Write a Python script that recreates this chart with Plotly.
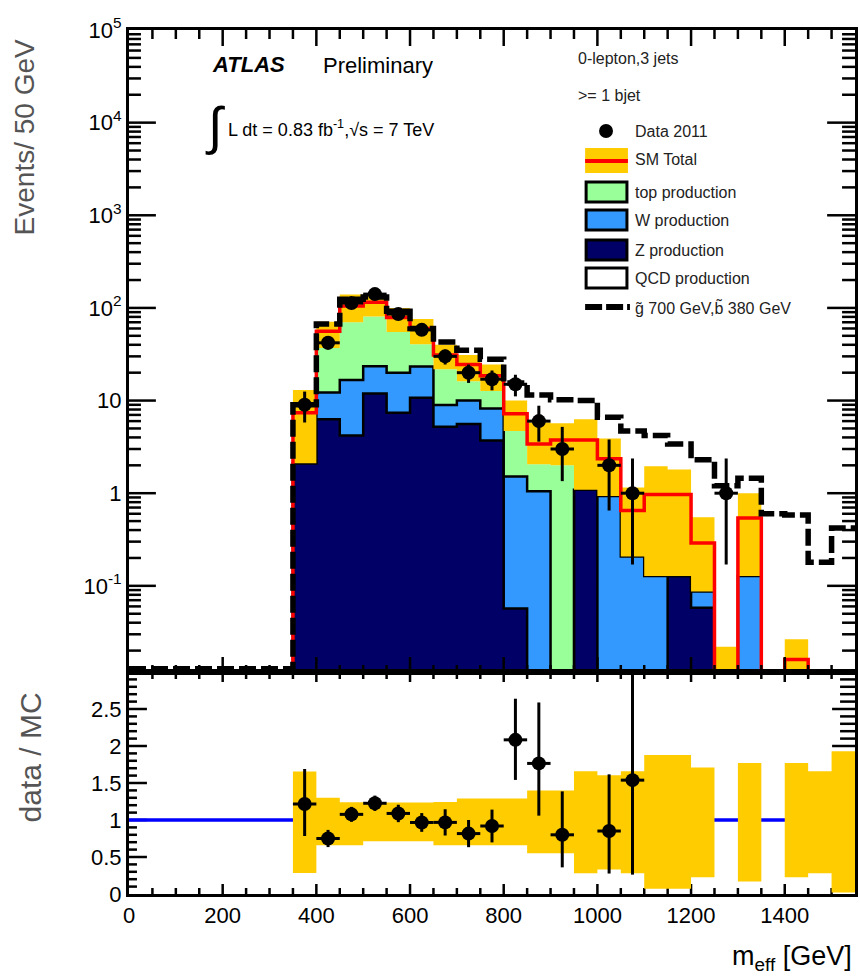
import plotly.graph_objects as go

# ---------------- binning: m_eff, 50 GeV bins ----------------
bin_edges = [350, 400, 450, 500, 550, 600, 650, 700, 750, 800, 850, 900, 950,
             1000, 1050, 1100, 1150, 1200, 1250, 1300, 1350, 1400, 1450, 1500, 1550]

# ---------------- data 2011 (None = empty bin) ----------------
data_counts = [9, 42, 113, 141, 86, 58, 30, 20, 17, 15, 6, 3, None,
               2, 1, None, None, None, 1, None, None, None, None, None]
data_err_up = [3.5, 6.5, 10.6, 11.9, 9.3, 7.6, 5.5, 4.5, 4.1, 4.0, 2.8, 2.2, None,
               1.8, 1.37, None, None, None, 1.37, None, None, None, None, None]
data_err_dn = [3.2, 6.5, 10.6, 11.9, 9.3, 7.6, 5.5, 4.5, 4.1, 3.9, 2.4, 1.65, None,
               1.35, 0.83, None, None, None, 0.83, None, None, None, None, None]

# ---------------- SM backgrounds (events / bin) ----------------
z_prod = [2.1, 6.3, 4.2, 11.9, 7.4, 10.7, 5.2, 5.6, 3.7, 0.057, 0, 0, 1.09,
          0, 0, 0, 0.128, 0.058, 0, 0, 0, 0, 0, 0]
w_prod = [0, 5.9, 12.5, 11.5, 12.6, 12.6, 3.75, 4.4, 4.5, 1.46, 1.05, 0, 0,
          0.93, 0.207, 0.128, 0, 0.029, 0, 0.128, 0, 0, 0, 0]
top_prod = [0, 24.8, 53.3, 57.6, 35, 17.3, 12.85, 6.2, 4.5, 3.2, 1.0, 2.0, 0,
            0, 0, 0, 0, 0, 0, 0, 0, 0, 0, 0]
sm_total = [7.4, 56, 105, 115, 79, 60, 31, 24.5, 18.5, 7.2, 3.4, 3.75, 3.75,
            2.35, 0.65, 0.97, 0.97, 0.29, 0, 0.54, 0, 0.016, 0.005, 0.005]

# SM uncertainty band (events)
sm_band_hi = [13, 71, 140, 140, 100, 76, 40, 31, 24.5, 10, 5.8, 5.7, 6.3,
              3.9, 1.15, 1.95, 1.8, 0.55, 0.022, 1.0, None, 0.0265, None, None]
sm_band_lo = [2.1, 37, 70, 81, 55, 40.6, 21.8, 16.2, 12.7, 4.7, 2.05, 2.0, 1.09,
              0.93, 0.207, 0.128, 0.128, 0.087, None, 0.128, None, None, None, None]

# SM uncertainty band relative to the SM total (ratio panel)
ratio_band_lo = [0.285, 0.66, 0.66, 0.714, 0.714, 0.714, 0.66, 0.66, 0.66, 0.66, 0.55, 0.55, 0.28,
                 0.33, 0.28, 0.072, 0.072, 0.225, None, 0.17, None, 0.225, 0.28, 0.02]
ratio_band_hi = [1.655, 1.30, 1.24, 1.235, 1.235, 1.235, 1.243, 1.29, 1.29, 1.29, 1.40, 1.40, 1.66,
                 1.605, 1.66, 1.88, 1.88, 1.71, None, 1.77, None, 1.77, 1.66, 1.93]

# SM + signal (gluino 700 GeV, sbottom 380 GeV)
signal_total = [9, 67, 124, 131, 92, 60, 43, 35, 28, 15.5, 11.5, 10.2, 10.0,
                6.6, 4.7, 4.2, 3.4, 2.3, 1.2, 1.45, 0.6, 0.58, 0.18, 0.42]

# axis ticks
x_major = [0, 200, 400, 600, 800, 1000, 1200, 1400]
x_minor = [v for v in range(50, 1550, 50) if v % 200]
y_major = [0.1, 1, 10, 100, 1e3, 1e4, 1e5]
y_major_text = ["10<sup>-1</sup>", "1", "10", "10<sup>2</sup>", "10<sup>3</sup>",
                "10<sup>4</sup>", "10<sup>5</sup>"]
y_minor = [m * 10 ** e for e in range(-2, 5) for m in range(2, 10)]
r_major = [0, 0.5, 1, 1.5, 2, 2.5]
r_major_text = ["0", "0.5", "1", "1.5", "2", "2.5"]
r_minor = [i / 10 for i in range(1, 30) if i % 5]

# ---------------- styling constants ----------------
FONT = "Liberation Sans, Arial, Helvetica, sans-serif"
NAVY, WBLUE, TGREEN = "#000066", "#3399ff", "#99ff99"
YELLOW, RED, BLUE = "#ffcc00", "#ff0000", "#0000ff"
FLOOR = 1e-4            # below the visible log range
SIG_FLOOR = 0.0127      # empty signal bins drawn along the bottom edge
Y_LOG_RANGE = [-1.93, 5.0]
R_RANGE = [0, 3]
X_RANGE = [0, 1550]

W, H = 860, 978
ML, MR, MT, MB = 129, 2, 30, 84
PLOT_W = W - ML - MR
PLOT_H = H - MT - MB
SPLIT_PX = 672           # boundary between the two panels
RATIO_FRAC = (H - MB - SPLIT_PX) / PLOT_H
TOP_H_PX = SPLIT_PX - MT
RATIO_H_PX = H - MB - SPLIT_PX

# pixel -> axis unit conversions used for tick-mark lengths
X_PER_PX = (X_RANGE[1] - X_RANGE[0]) / PLOT_W
DEC_PER_PX = (Y_LOG_RANGE[1] - Y_LOG_RANGE[0]) / TOP_H_PX
R_PER_PX = (R_RANGE[1] - R_RANGE[0]) / RATIO_H_PX


def px(x):
    return (x - ML) / PLOT_W


def py(y):
    return (H - MB - y) / PLOT_H


def clean(vals, floor=FLOOR):
    return [floor if (v is None or v <= 0) else v for v in vals]


def step_xy(vals, floor=FLOOR, lead=None):
    v = clean(vals, floor)
    x0 = bin_edges[0] if lead is None else lead
    xs = [x0] + bin_edges
    ys = [floor] + v + [v[-1]]
    return xs, ys


def cumsum(*series):
    return [sum(parts) for parts in zip(*series)]


fig = go.Figure()


def tick_marks(xaxis, yaxis, y_ticks, x_ticks, y_to_axis, y_from_axis, y_span):
    """y_ticks: (value, left_len_px, right_len_px); x_ticks: (value, bottom_len_px, top_len_px)."""
    xs, ys = [], []
    for v, l_left, l_right in y_ticks:
        xs += [X_RANGE[0], X_RANGE[0] + l_left * X_PER_PX, None,
               X_RANGE[1] - l_right * X_PER_PX, X_RANGE[1], None]
        ys += [v, v, None, v, v, None]
    lo, hi = y_span
    for v, l_bot, l_top in x_ticks:
        xs += [v, v, None, v, v, None]
        ys += [y_from_axis(lo), y_from_axis(lo + l_bot * y_to_axis), None,
               y_from_axis(hi - l_top * y_to_axis), y_from_axis(hi), None]
    fig.add_trace(go.Scatter(x=xs, y=ys, mode="lines", line=dict(color="black", width=2.5),
                             hoverinfo="skip", showlegend=False, xaxis=xaxis, yaxis=yaxis))


# ---------------- top panel: stacked backgrounds ----------------
xs, base = step_xy([0] * len(z_prod))
fig.add_trace(go.Scatter(x=xs, y=base, mode="lines", line=dict(width=0, shape="hv"),
                         hoverinfo="skip", showlegend=False, xaxis="x", yaxis="y"))

stack_z = z_prod
stack_zw = cumsum(z_prod, w_prod)
stack_zwt = cumsum(z_prod, w_prod, top_prod)

for vals, colour, lw in [(stack_z, NAVY, 2.5), (stack_zw, WBLUE, 2.5), (stack_zwt, TGREEN, 0)]:
    xs, ys = step_xy(vals)
    fig.add_trace(go.Scatter(x=xs, y=ys, mode="lines", fill="tonexty", fillcolor=colour,
                             line=dict(color="black", width=lw, shape="hv"),
                             hoverinfo="skip", showlegend=False, xaxis="x", yaxis="y"))

# uncertainty band over the stack
band_hi = list(sm_band_hi)
band_lo = [(l if l is not None else FLOOR) if h is not None else None
           for h, l in zip(sm_band_hi, sm_band_lo)]
xs, ys_lo = step_xy(band_lo)
xs, ys_hi = step_xy(band_hi)
fig.add_trace(go.Scatter(x=xs, y=ys_lo, mode="lines", line=dict(width=0, shape="hv"),
                         hoverinfo="skip", showlegend=False, xaxis="x", yaxis="y"))
fig.add_trace(go.Scatter(x=xs, y=ys_hi, mode="lines", fill="tonexty", fillcolor=YELLOW,
                         line=dict(width=0, shape="hv"),
                         hoverinfo="skip", showlegend=False, xaxis="x", yaxis="y"))

# SM total
xs, ys = step_xy(sm_total)
fig.add_trace(go.Scatter(x=xs, y=ys, mode="lines", line=dict(color=RED, width=3.5, shape="hv"),
                         hoverinfo="skip", showlegend=False, xaxis="x", yaxis="y"))

# SM + signal
xs, ys = step_xy(signal_total, floor=SIG_FLOOR, lead=X_RANGE[0])
fig.add_trace(go.Scatter(x=xs, y=ys, mode="lines",
                         line=dict(color="black", width=5.5, shape="hv", dash="17px,5px"),
                         hoverinfo="skip", showlegend=False, xaxis="x", yaxis="y"))

# tick marks of the top panel (drawn over the histograms)
y_lo_val, y_hi_val = 10 ** Y_LOG_RANGE[0], 10 ** Y_LOG_RANGE[1]
top_y_ticks = ([(v, 27, 28) for v in y_major if y_lo_val < v < y_hi_val] +
               [(v, 12, 13) for v in y_minor if y_lo_val < v < y_hi_val])
top_x_ticks = [(v, 15, 16) for v in x_major[1:]] + [(v, 7, 9) for v in x_minor]
tick_marks("x", "y", top_y_ticks, top_x_ticks, DEC_PER_PX, lambda d: 10 ** d, Y_LOG_RANGE)

# data points
centres = [(a + b) / 2 for a, b in zip(bin_edges[:-1], bin_edges[1:])]
halfw = [(b - a) / 2 for a, b in zip(bin_edges[:-1], bin_edges[1:])]
sel = [i for i, n in enumerate(data_counts) if n is not None]
fig.add_trace(go.Scatter(
    x=[centres[i] for i in sel], y=[data_counts[i] for i in sel], mode="markers",
    marker=dict(color="black", size=14),
    error_x=dict(type="data", array=[halfw[i] for i in sel], thickness=3, width=0, color="black"),
    error_y=dict(type="data", symmetric=False, array=[data_err_up[i] for i in sel],
                 arrayminus=[data_err_dn[i] for i in sel], thickness=3, width=0, color="black"),
    hoverinfo="skip", showlegend=False, xaxis="x", yaxis="y"))

# ---------------- ratio panel ----------------
# tick marks first, so the uncertainty band covers them
ratio_y_ticks = ([(v, 18, 23) for v in r_major[1:]] + [(v, 8, 15) for v in r_minor])
ratio_x_ticks = [(v, 10, 10) for v in x_major[1:]] + [(v, 6, 7) for v in x_minor]
tick_marks("x2", "y2", ratio_y_ticks, ratio_x_ticks, R_PER_PX, lambda d: d, R_RANGE)

fig.add_trace(go.Scatter(x=X_RANGE, y=[1, 1], mode="lines", line=dict(color=BLUE, width=3.5),
                         hoverinfo="skip", showlegend=False, xaxis="x2", yaxis="y2"))
r_lo = [l if l is not None else 1.0 for l in ratio_band_lo]
r_hi = [h if h is not None else 1.0 for h in ratio_band_hi]
fig.add_trace(go.Scatter(x=bin_edges, y=r_lo + [r_lo[-1]], mode="lines",
                         line=dict(width=0, shape="hv"),
                         hoverinfo="skip", showlegend=False, xaxis="x2", yaxis="y2"))
fig.add_trace(go.Scatter(x=bin_edges, y=r_hi + [r_hi[-1]], mode="lines", fill="tonexty",
                         fillcolor=YELLOW, line=dict(width=0, shape="hv"),
                         hoverinfo="skip", showlegend=False, xaxis="x2", yaxis="y2"))

rsel = [i for i in sel if sm_total[i] > 0]
fig.add_trace(go.Scatter(
    x=[centres[i] for i in rsel], y=[data_counts[i] / sm_total[i] for i in rsel], mode="markers",
    marker=dict(color="black", size=14),
    error_x=dict(type="data", array=[halfw[i] for i in rsel], thickness=3, width=0, color="black"),
    error_y=dict(type="data", symmetric=False,
                 array=[data_err_up[i] / sm_total[i] for i in rsel],
                 arrayminus=[data_err_dn[i] / sm_total[i] for i in rsel],
                 thickness=3, width=0, color="black"),
    hoverinfo="skip", showlegend=False, xaxis="x2", yaxis="y2"))

# ---------------- axes ----------------


def axis(**kw):
    d = dict(showline=True, linewidth=3, linecolor="black", mirror=True,
             ticks="", showgrid=False, zeroline=False, tickmode="array",
             tickfont=dict(family=FONT, size=22, color="black"))
    d.update(kw)
    return d


fig.update_layout(
    width=W, height=H,
    margin=dict(l=ML, r=MR, t=MT, b=MB),
    paper_bgcolor="white", plot_bgcolor="white",
    xaxis=axis(domain=[0, 1], anchor="y", range=X_RANGE, tickvals=x_major,
               showticklabels=False),
    yaxis=axis(domain=[RATIO_FRAC, 1], anchor="x", type="log", range=Y_LOG_RANGE,
               tickvals=y_major, ticktext=y_major_text),
    xaxis2=axis(domain=[0, 1], anchor="y2", range=X_RANGE, tickvals=x_major),
    yaxis2=axis(domain=[0, RATIO_FRAC], anchor="x2", range=R_RANGE,
                tickvals=r_major, ticktext=r_major_text),
)

# ---------------- text ----------------
ann = []


def text(x, y, s, size=16, color="#222", xanchor="left", yanchor="middle", angle=0):
    ann.append(dict(x=px(x), y=py(y), xref="paper", yref="paper", text=s, showarrow=False,
                    xanchor=xanchor, yanchor=yanchor, textangle=angle,
                    font=dict(family=FONT, size=size, color=color)))


text(210, 64, "<b><i>ATLAS</i></b>", size=22, color="black")
text(322, 66, "Preliminary", size=22, color="black")
text(215, 126, "∫", size=52, color="black", xanchor="center")
text(226, 128, "L dt = 0.83 fb<sup>-1</sup>,√s = 7 TeV", size=18, color="black")
text(578, 58, "0-lepton,3 jets", size=16)
text(578, 95, ">= 1 bjet", size=16)

legend_rows = [("Data 2011", 131), ("SM Total", 160), ("top production", 192),
               ("W production", 220), ("Z production", 250), ("QCD production", 278),
               ("g\u0303 700 GeV,b\u0303 380 GeV", 307)]
for label, yy in legend_rows:
    text(635, yy, label, size=16)

text(25, 137, "Events/ 50 GeV", size=28, color="#555", xanchor="center", angle=-90)
text(30, 757, "data / MC", size=30, color="#555", xanchor="center", angle=-90)
text(857, 958, "m<sub>eff</sub> [GeV]", size=27, color="black", xanchor="right")

# ---------------- legend symbols ----------------
shapes = []


def rect(x0, y0, x1, y1, fill, lw=0):
    shapes.append(dict(type="rect", xref="paper", yref="paper",
                       x0=px(x0), x1=px(x1), y0=py(y1), y1=py(y0),
                       fillcolor=fill, line=dict(color="black", width=lw), layer="above"))


shapes.append(dict(type="circle", xref="paper", yref="paper", x0=px(601), x1=px(615),
                   y0=py(138), y1=py(124), fillcolor="black", line=dict(width=0)))
rect(587, 148, 630, 173, YELLOW)
shapes.append(dict(type="line", xref="paper", yref="paper", x0=px(587), x1=px(630),
                   y0=py(161), y1=py(161), line=dict(color=RED, width=4)))
for (label, yy), fill in zip(legend_rows[2:6], [TGREEN, WBLUE, NAVY, "white"]):
    rect(588, yy - 10, 629, yy + 10, fill, lw=3)
shapes.append(dict(type="line", xref="paper", yref="paper", x0=px(587), x1=px(632),
                   y0=py(307), y1=py(307),
                   line=dict(color="black", width=6, dash="17px,4px")))

fig.update_layout(annotations=ann, shapes=shapes)
fig.write_html("out.html")
